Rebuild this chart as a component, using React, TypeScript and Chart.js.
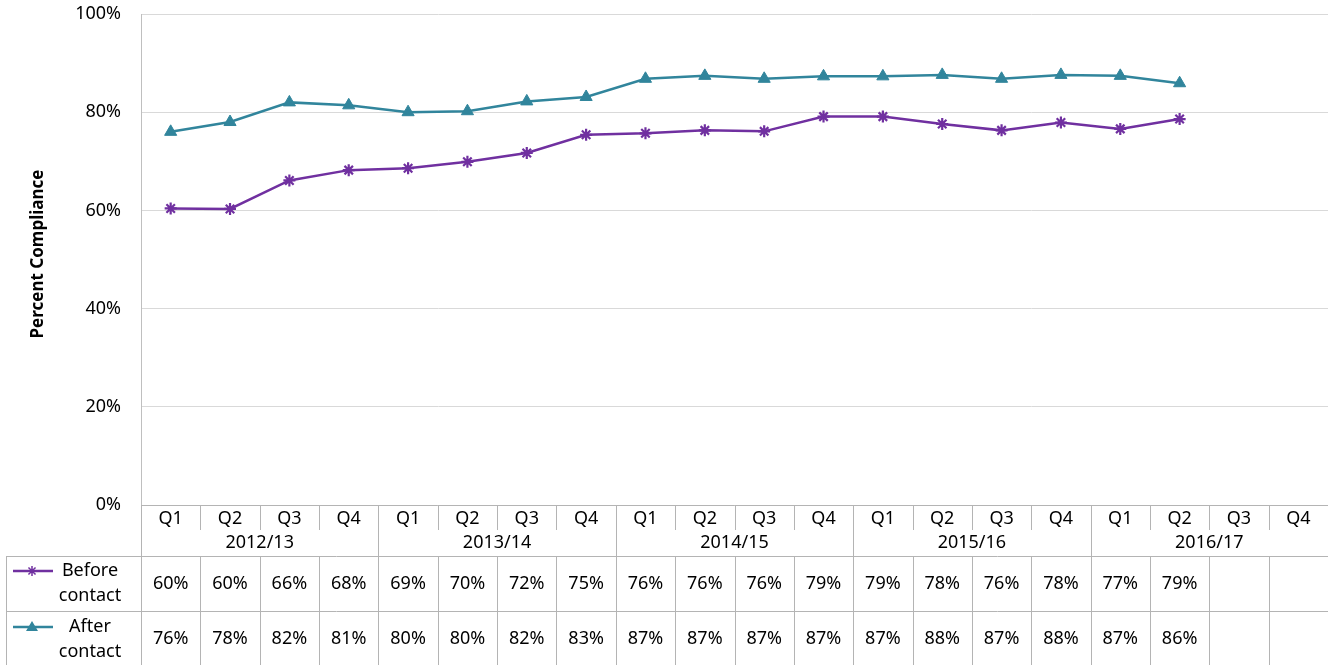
import React, { useEffect, useRef } from "react";
import { Chart, registerables } from "chart.js";

Chart.register(...registerables);

const quarters = [
  "Q1", "Q2", "Q3", "Q4",
  "Q1", "Q2", "Q3", "Q4",
  "Q1", "Q2", "Q3", "Q4",
  "Q1", "Q2", "Q3", "Q4",
  "Q1", "Q2", "Q3", "Q4",
];
const years = ["2012/13", "2013/14", "2014/15", "2015/16", "2016/17"];
const beforeContact: (number | null)[] = [
  60.4, 60.3, 66.1, 68.2, 68.6, 69.9, 71.7, 75.4, 75.7, 76.3, 76.1, 79.1, 79.1, 77.6, 76.3, 77.9, 76.6, 78.6, null, null,
];
const afterContact: (number | null)[] = [
  76.0, 78.0, 82.0, 81.4, 80.0, 80.2, 82.2, 83.1, 86.8, 87.4, 86.8, 87.3, 87.3, 87.6, 86.8, 87.6, 87.4, 85.9, null, null,
];
const yTicks = [0, 20, 40, 60, 80, 100];

const PURPLE = "#7030a0";
const TEAL = "#31859c";
const FONT = "'Noto Sans', sans-serif";
const LINE = "#b4b4b4";

const tablePlugin = {
  id: "dataTable",
  afterDraw(chart: any) {
    const ctx = chart.ctx as CanvasRenderingContext2D;
    const ca = chart.chartArea;
    const left = ca.left;
    const right = ca.right;
    const n = quarters.length;
    const step = (right - left) / n;
    const y0 = ca.bottom;
    const qRowEnd = y0 + 25;
    const yearRowEnd = y0 + 51;
    const beforeEnd = y0 + 106;
    const bottom = y0 + 160;
    const keyLeft = 6;

    ctx.save();
    ctx.strokeStyle = LINE;
    ctx.lineWidth = 1;
    const hline = (x1: number, x2: number, y: number) => {
      ctx.beginPath();
      ctx.moveTo(x1, Math.round(y) + 0.5);
      ctx.lineTo(x2, Math.round(y) + 0.5);
      ctx.stroke();
    };
    const vline = (x: number, y1: number, y2: number) => {
      ctx.beginPath();
      ctx.moveTo(Math.round(x) + 0.5, y1);
      ctx.lineTo(Math.round(x) + 0.5, y2);
      ctx.stroke();
    };
    hline(left, right, y0);
    hline(keyLeft, right, yearRowEnd);
    hline(keyLeft, right, beforeEnd);
    vline(left, y0, bottom);
    vline(keyLeft, yearRowEnd, bottom);
    for (let i = 1; i < n; i++) {
      const x = left + i * step;
      if (i % 4 === 0) {
        vline(x, y0, bottom);
      } else {
        vline(x, y0, qRowEnd);
        vline(x, yearRowEnd, bottom);
      }
    }

    ctx.fillStyle = "#000";
    ctx.font = `18px ${FONT}`;
    ctx.textAlign = "center";
    ctx.textBaseline = "middle";
    for (let i = 0; i < n; i++) {
      const cx = left + (i + 0.5) * step;
      ctx.fillText(quarters[i], cx, y0 + 14);
      const b = beforeContact[i];
      const a = afterContact[i];
      if (b != null) ctx.fillText(Math.round(b) + "%", cx, y0 + 79);
      if (a != null) ctx.fillText(Math.round(a) + "%", cx, y0 + 134);
    }
    for (let k = 0; k < years.length; k++) {
      const cx = left + (k * 4 + 2) * step;
      ctx.fillText(years[k], cx, y0 + 38);
    }

    // legend keys
    const drawKey = (y: number, color: string, kind: string) => {
      ctx.strokeStyle = color;
      ctx.lineWidth = 2.5;
      ctx.beginPath();
      ctx.moveTo(13, y);
      ctx.lineTo(53, y);
      ctx.stroke();
      const mx = 32;
      if (kind === "star") {
        ctx.lineWidth = 1.5;
        const r = 5;
        ctx.beginPath();
        ctx.moveTo(mx - r, y); ctx.lineTo(mx + r, y);
        ctx.moveTo(mx, y - r); ctx.lineTo(mx, y + r);
        const d = r * 0.707;
        ctx.moveTo(mx - d, y - d); ctx.lineTo(mx + d, y + d);
        ctx.moveTo(mx - d, y + d); ctx.lineTo(mx + d, y - d);
        ctx.stroke();
      } else {
        ctx.fillStyle = color;
        ctx.beginPath();
        ctx.moveTo(mx, y - 6);
        ctx.lineTo(mx + 6, y + 4);
        ctx.lineTo(mx - 6, y + 4);
        ctx.closePath();
        ctx.fill();
      }
    };
    drawKey(y0 + 66, PURPLE, "star");
    drawKey(y0 + 122, TEAL, "tri");
    ctx.fillStyle = "#000";
    ctx.font = `18px ${FONT}`;
    ctx.textAlign = "center";
    ctx.fillText("Before", 90, y0 + 66);
    ctx.fillText("contact", 90, y0 + 91);
    ctx.fillText("After", 90, y0 + 122);
    ctx.fillText("contact", 90, y0 + 147);

    // y axis title
    ctx.save();
    ctx.translate(38, 254);
    ctx.rotate(-Math.PI / 2);
    ctx.font = `bold 17px ${FONT}`;
    ctx.fillText("Percent Compliance", 0, 0);
    ctx.restore();

    ctx.restore();
  },
};

export default function App() {
  const canvasRef = useRef<HTMLCanvasElement | null>(null);

  useEffect(() => {
    if (!canvasRef.current) return;
    const chart = new Chart(canvasRef.current, {
      type: "line",
      data: {
        labels: quarters,
        datasets: [
          {
            label: "Before contact",
            data: beforeContact,
            borderColor: PURPLE,
            backgroundColor: PURPLE,
            borderWidth: 2.5,
            pointStyle: "star",
            pointRadius: 6,
            pointBorderWidth: 2.2,
            pointBorderColor: PURPLE,
            tension: 0,
          },
          {
            label: "After contact",
            data: afterContact,
            borderColor: TEAL,
            backgroundColor: TEAL,
            borderWidth: 2.5,
            pointStyle: "triangle",
            pointRadius: 7,
            pointBorderWidth: 1,
            tension: 0,
          },
        ],
      },
      options: {
        animation: false,
        responsive: false,
        maintainAspectRatio: false,
        layout: { autoPadding: false, padding: { left: 0, right: 0, top: 14, bottom: 160 } },
        plugins: {
          legend: { display: false },
          tooltip: { enabled: false },
        },
        scales: {
          x: { display: false, offset: true },
          y: {
            min: 0,
            max: 100,
            afterBuildTicks: (scale: any) => {
              scale.ticks = yTicks.map((v) => ({ value: v }));
            },
            afterFit: (scale: any) => {
              scale.width = 141;
              scale.paddingTop = 0;
              scale.paddingBottom = 0;
            },
            ticks: {
              padding: 20,
              color: "#000",
              font: { family: "'Noto Sans', sans-serif", size: 18 },
              callback: (v: any) => v + "%",
            },
            grid: { color: "#d9d9d9", drawTicks: false },
            border: { color: "#bfbfbf" },
          },
        },
      },
      plugins: [tablePlugin],
    });
    return () => chart.destroy();
  }, []);

  return (
    <div style={{ position: "fixed", left: 0, top: 0, width: 1328, height: 665, background: "#fff" }}>
      <canvas ref={canvasRef} width={1328} height={665} style={{ width: 1328, height: 665 }} />
    </div>
  );
}
